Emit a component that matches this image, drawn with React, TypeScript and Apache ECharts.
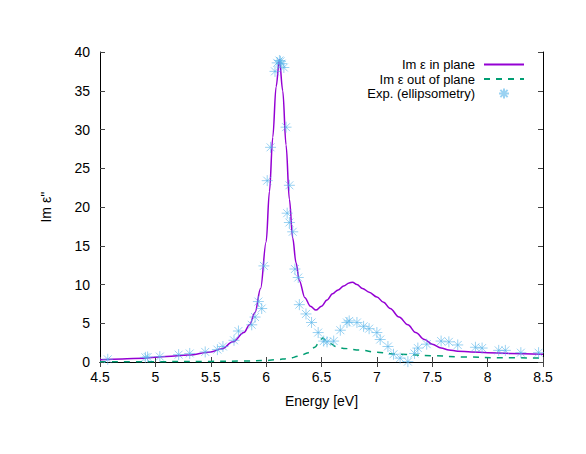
import React, { useEffect, useRef } from "react";
import * as echarts from "echarts";

const xTicks = { min: 4.5, max: 8.5, interval: 0.5 };
const yTicks = { min: 0, max: 40, interval: 5 };

const inPlaneE = [4.5, 4.7, 4.9, 5.1, 5.3, 5.5, 5.6, 5.7, 5.8, 5.85, 5.9, 5.95, 6.0, 6.03, 6.06, 6.09, 6.12, 6.15, 6.18, 6.21, 6.24, 6.27, 6.3, 6.35, 6.4, 6.45, 6.5, 6.55, 6.6, 6.65, 6.7, 6.75, 6.78, 6.82, 6.87, 6.93, 7.0, 7.06, 7.12, 7.2, 7.28, 7.35, 7.43, 7.5, 7.58, 7.65, 7.73, 7.85, 8.0, 8.2, 8.5];
const inPlaneV = [0.3, 0.4, 0.5, 0.7, 0.9, 1.3, 1.7, 2.6, 3.8, 4.8, 6.4, 9.5, 15.5, 22, 29, 35.5, 39, 35, 28, 21, 16, 12.8, 10.5, 8.3, 7.2, 6.7, 7.2, 8.0, 8.8, 9.3, 9.8, 10.2, 10.3, 10.0, 9.5, 9.0, 8.4, 7.7, 6.9, 5.8, 4.8, 3.8, 2.9, 2.3, 1.8, 1.55, 1.4, 1.3, 1.2, 1.1, 1.0];

const outPlaneE = [4.5, 5.0, 5.5, 5.8, 6.0, 6.1, 6.2, 6.3, 6.38, 6.44, 6.48, 6.51, 6.54, 6.58, 6.63, 6.7, 6.85, 7.0, 7.2, 7.5, 7.8, 8.1, 8.5];
const outPlaneV = [0.02, 0.04, 0.08, 0.12, 0.2, 0.3, 0.45, 0.75, 1.2, 1.9, 2.6, 3.1, 2.8, 2.4, 2.0, 1.75, 1.55, 1.25, 1.0, 0.8, 0.65, 0.55, 0.5];

const expE = [4.57, 4.91, 4.93, 5.04, 5.21, 5.31, 5.45, 5.56, 5.61, 5.71, 5.75, 5.87, 5.9, 5.93, 5.96, 5.98, 6.01, 6.04, 6.08, 6.1, 6.12, 6.13, 6.14, 6.16, 6.18, 6.19, 6.21, 6.21, 6.24, 6.26, 6.29, 6.3, 6.36, 6.41, 6.47, 6.52, 6.55, 6.61, 6.67, 6.73, 6.75, 6.82, 6.88, 6.93, 7.0, 7.03, 7.1, 7.15, 7.21, 7.28, 7.34, 7.37, 7.45, 7.58, 7.65, 7.73, 7.89, 7.95, 8.1, 8.16, 8.3, 8.46];
const expV = [0.35, 0.6, 0.65, 0.7, 0.95, 1.1, 1.3, 1.6, 2.0, 2.8, 4.0, 4.8, 5.8, 7.8, 6.9, 12.4, 23.4, 27.7, 37.5, 38.6, 38.9, 38.8, 38.5, 38.0, 30.3, 19.2, 22.8, 18.0, 16.8, 12.0, 10.9, 7.4, 6.2, 5.1, 3.8, 2.7, 2.6, 2.7, 4.1, 5.1, 5.3, 5.1, 4.6, 4.3, 3.8, 2.9, 2.0, 1.0, 0.5, 0.05, 1.1, 1.8, 2.3, 2.7, 2.6, 2.2, 1.9, 1.8, 1.5, 1.5, 1.2, 1.2];

const seriesNames = ["Im ε in plane", "Im ε out of plane", "Exp. (ellipsometry)"];
const xName = "Energy [eV]";
const yName = "Im ε''";

const zip = (a: number[], b: number[]) => a.map((v, i) => [v, b[i]]);

const FONT = "Liberation Sans, Arial, Helvetica, sans-serif";
const FS = 14;
const starPath = "path://M0,-5L0,5M-5,0L5,0M-3.6,-3.6L3.6,3.6M-3.6,3.6L3.6,-3.6";

export default function App() {
  const ref = useRef<HTMLDivElement>(null);
  useEffect(() => {
    if (!ref.current) return;
    const chart = echarts.init(ref.current, undefined, { renderer: "svg" });
    const axisCommon = {
      axisLine: { show: true, lineStyle: { color: "#000", width: 1 } },
      axisTick: { show: true, inside: true, length: 5, lineStyle: { color: "#444" } },
      splitLine: { show: false },
    };
    const legendCommon = (i: number, top: number, line: boolean) => ({
      data: [
        line
          ? { name: seriesNames[i], itemStyle: { opacity: 0, color: "transparent", borderWidth: 0 } }
          : { name: seriesNames[i] },
      ],
      right: line ? 61 : 76,
      top,
      orient: "vertical" as const,
      align: "right" as const,
      padding: 0,
      itemWidth: line ? 40 : 10,
      itemHeight: 10,
      textStyle: {
        fontFamily: FONT,
        fontSize: 13,
        lineHeight: 13,
        color: "#000",
        padding: line ? [0, 4, 0, 0] : [0, 19, 0, 0],
      },
      selectedMode: false,
    });
    chart.setOption({
      animation: false,
      backgroundColor: "#fff",
      textStyle: { fontFamily: FONT },
      grid: { left: 100, top: 52, right: 43, bottom: 92 },
      legend: [legendCommon(0, 58, true), legendCommon(1, 72.5, true), legendCommon(2, 87, false)],
      xAxis: [
        {
          type: "value",
          ...xTicks,
          position: "bottom",
          ...axisCommon,
          axisLabel: { fontFamily: FONT, fontSize: FS, color: "#000", margin: 8 },
          name: xName,
          nameLocation: "middle",
          nameGap: 32,
          nameTextStyle: { fontFamily: FONT, fontSize: FS, color: "#000" },
        },
        {
          type: "value",
          ...xTicks,
          position: "top",
          ...axisCommon,
          axisLabel: { show: false },
        },
      ],
      yAxis: [
        {
          type: "value",
          ...yTicks,
          position: "left",
          ...axisCommon,
          axisLabel: { fontFamily: FONT, fontSize: FS, color: "#000", margin: 10 },
          name: yName,
          nameLocation: "middle",
          nameGap: 47,
          nameRotate: 90,
          nameTextStyle: { fontFamily: FONT, fontSize: FS, color: "#000" },
        },
        {
          type: "value",
          ...yTicks,
          position: "right",
          ...axisCommon,
          axisLabel: { show: false },
        },
      ],
      series: [
        {
          name: seriesNames[0],
          type: "line",
          data: zip(inPlaneE, inPlaneV),
          symbol: "none",
          smooth: 0.35,
          smoothMonotone: "x",
          color: "#9400D3",
          lineStyle: { color: "#9400D3", width: 1.5 },
          z: 3,
        },
        {
          name: seriesNames[1],
          type: "line",
          data: zip(outPlaneE, outPlaneV),
          symbol: "none",
          smooth: 0.35,
          smoothMonotone: "x",
          color: "#009E73",
          lineStyle: { color: "#009E73", width: 1.5, type: [6, 6] },
          z: 2,
        },
        {
          name: seriesNames[2],
          type: "scatter",
          data: zip(expE, expV),
          symbol: starPath,
          symbolSize: 11,
          itemStyle: { color: "rgba(0,0,0,0)", borderColor: "#56B4E9", borderWidth: 1, opacity: 0.6 },
          z: 4,
        },
      ],
    });
    return () => chart.dispose();
  }, []);
  return (
    <div
      ref={ref}
      style={{ position: "fixed", left: 0, top: 0, width: 586, height: 454 }}
    />
  );
}
